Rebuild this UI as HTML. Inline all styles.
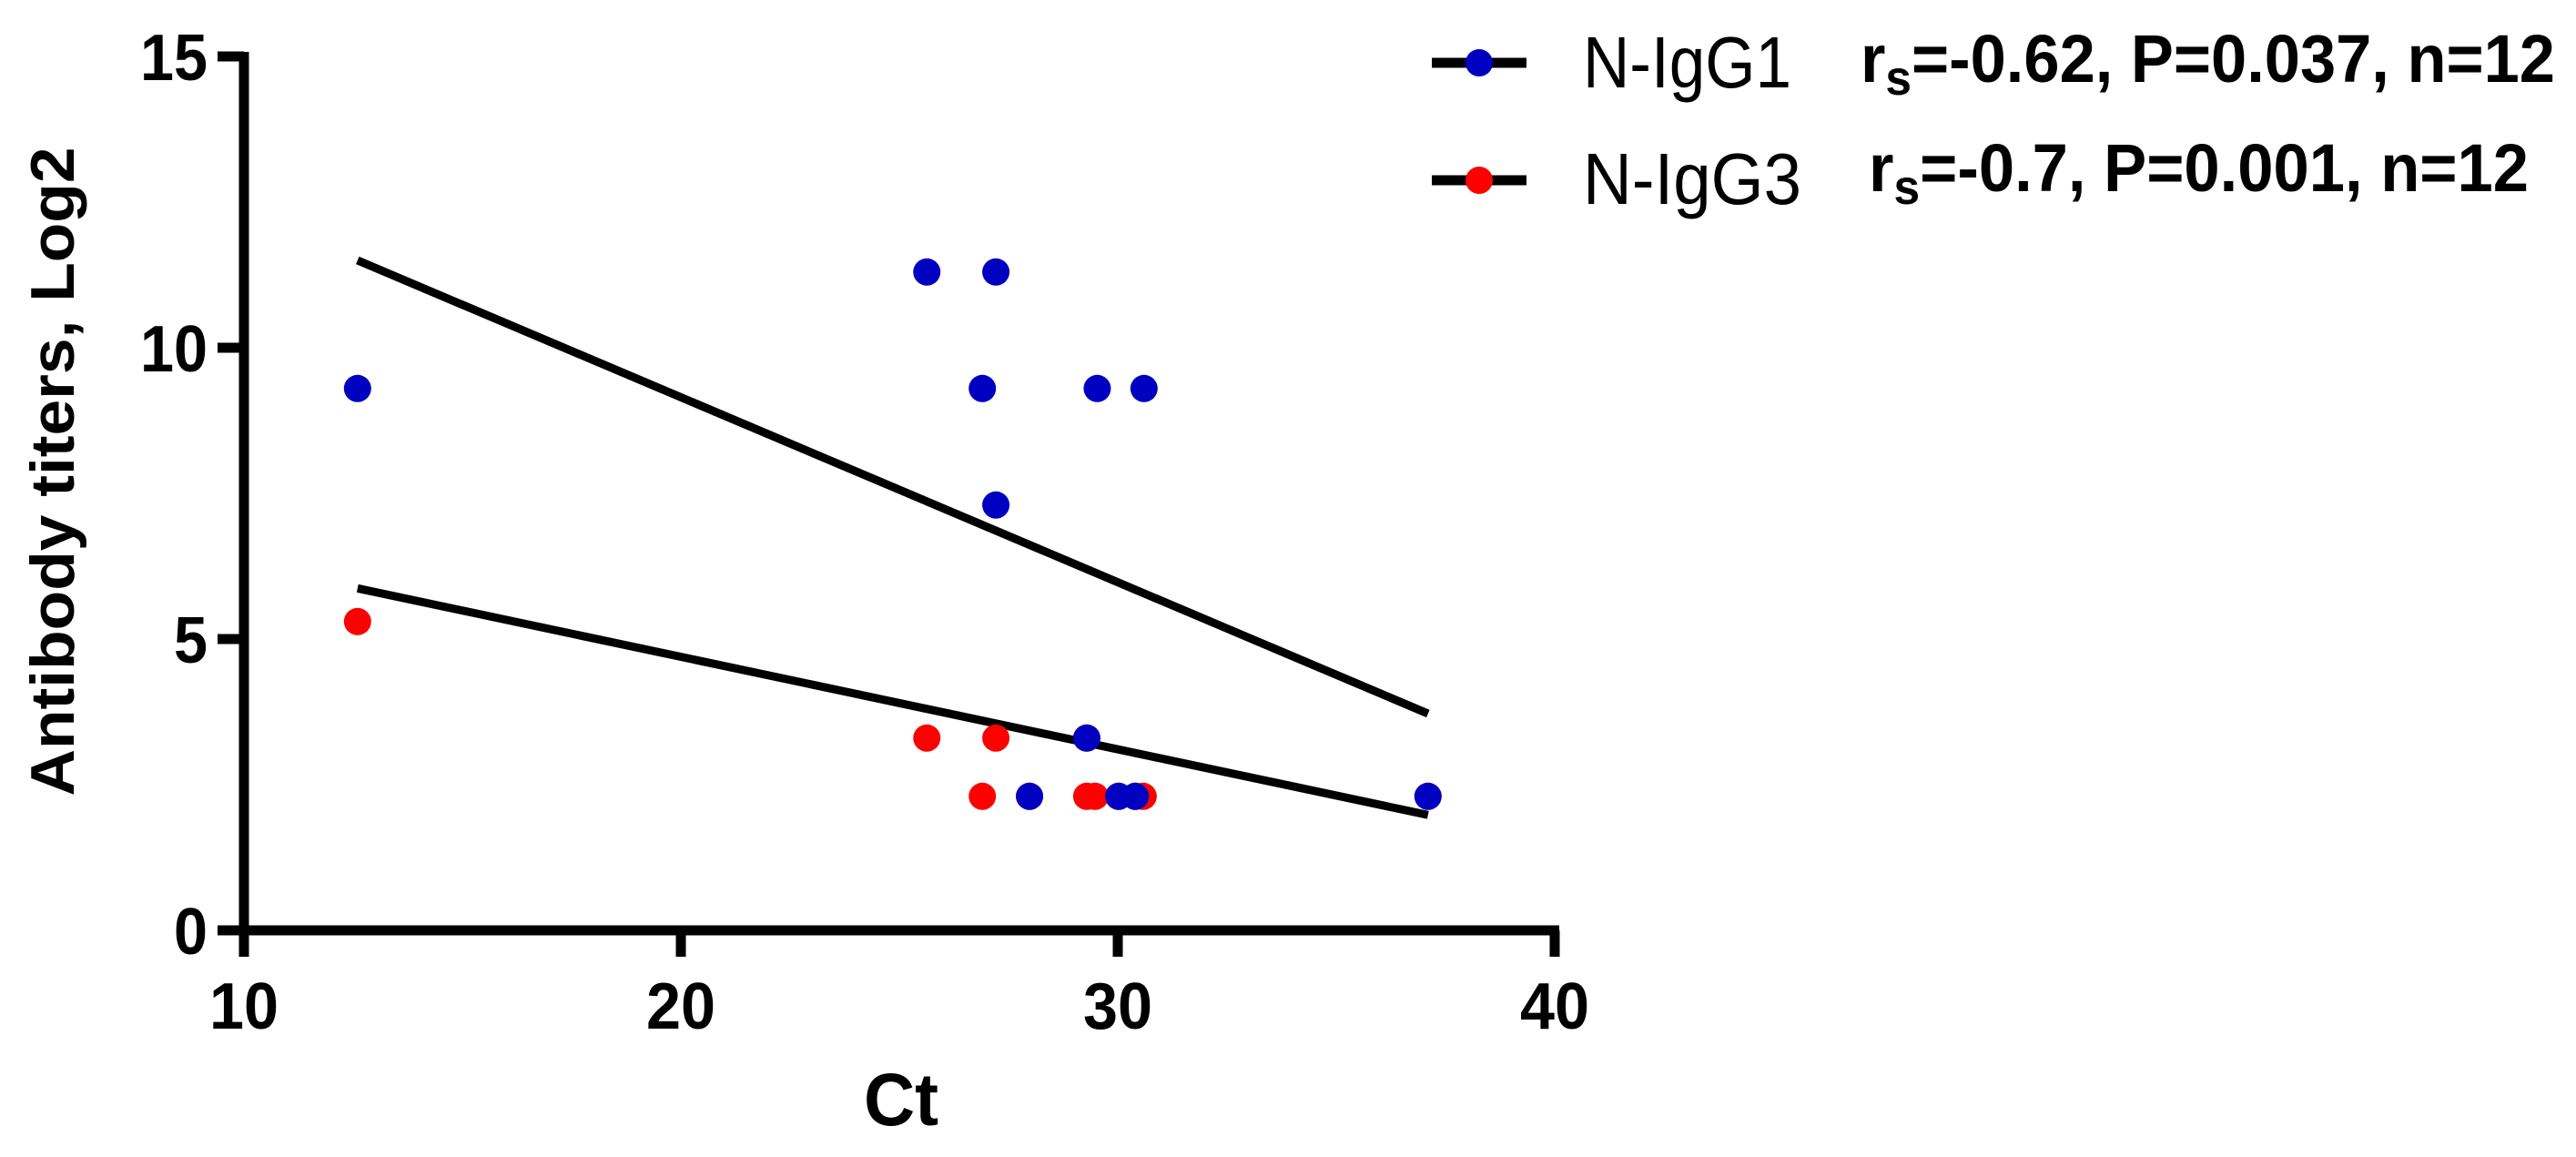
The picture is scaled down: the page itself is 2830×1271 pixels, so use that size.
<!DOCTYPE html>
<html><head><meta charset="utf-8"><style>
html,body{margin:0;padding:0;background:#fff;}
svg{display:block;}
text{font-family:"Liberation Sans",Arial,sans-serif;}
</style></head><body>
<svg id="chart" width="2830" height="1271" viewBox="0 0 2830 1271" xmlns="http://www.w3.org/2000/svg">
<g id="fits"></g>
<g id="points"></g>
<g id="axes"></g>
<text transform="translate(81,518) rotate(-90)" text-anchor="middle" font-size="68" font-weight="bold" textLength="713" lengthAdjust="spacingAndGlyphs">Antibody titers, Log2</text>
<text x="990" y="1236" text-anchor="middle" font-size="82" font-weight="bold" textLength="82" lengthAdjust="spacingAndGlyphs">Ct</text>
<g>
  <g>
    <line x1="1573" y1="69" x2="1677" y2="69" stroke="#000" stroke-width="11"/>
    <circle cx="1625" cy="69" r="15" fill="#0000C0"/>
    <text x="1739" y="96" font-size="80" textLength="229" lengthAdjust="spacingAndGlyphs">N-IgG1</text>
    <text x="2044" y="90" font-size="74" font-weight="bold" textLength="763" lengthAdjust="spacingAndGlyphs">r<tspan dy="14" font-size="54">s</tspan><tspan dy="-14">=-0.62, P=0.037, n=12</tspan></text>
  </g>
  <g>
    <line x1="1573" y1="198" x2="1677" y2="198" stroke="#000" stroke-width="11"/>
    <circle cx="1625" cy="198" r="15" fill="#FF0000"/>
    <text x="1739" y="224" font-size="80" textLength="240" lengthAdjust="spacingAndGlyphs">N-IgG3</text>
    <text x="2053" y="210" font-size="74" font-weight="bold" textLength="725" lengthAdjust="spacingAndGlyphs">r<tspan dy="14" font-size="54">s</tspan><tspan dy="-14">=-0.7, P=0.001, n=12</tspan></text>
  </g>
</g>
</svg>
<script>
const xTicks = [10, 20, 30, 40];
const yTicks = [0, 5, 10, 15];
const igg1X = [12.6, 25.63, 27.21, 26.9, 29.53, 30.6, 27.21, 29.29, 27.98, 30.02, 30.4, 37.1];
const igg1Y = [9.3, 11.3, 11.3, 9.3, 9.3, 9.3, 7.3, 3.3, 2.3, 2.3, 2.3, 2.3];
const igg3X = [12.6, 25.63, 27.21, 26.9, 29.29, 29.48, 30.58, 27.98, 30.02, 30.4, 37.1, 29.29];
const igg3Y = [5.3, 3.3, 3.3, 2.3, 2.3, 2.3, 2.3, 2.3, 2.3, 2.3, 2.3, 3.3];
const fitX = [12.6, 37.1];
const fit1Y = [11.5, 3.72];
const fit3Y = [5.87, 1.98];

const NS = 'http://www.w3.org/2000/svg';
const X0 = 268, PXX = 48, Y0 = 1022, PXY = 64;
function sx(v){ return X0 + (v - 10) * PXX; }
function sy(v){ return Y0 - v * PXY; }
function mk(tag, attrs, parent){
  const e = document.createElementNS(NS, tag);
  for (const k in attrs) e.setAttribute(k, attrs[k]);
  parent.appendChild(e);
  return e;
}
const axes = document.getElementById('axes');
const fits = document.getElementById('fits');
const pts = document.getElementById('points');

let yl = mk('line', {x1: X0, y1: sy(15) - 5, x2: X0, y2: Y0 + 29, stroke: '#000', 'stroke-width': 11}, axes);


let xl = mk('line', {x1: X0 - 29, y1: Y0, x2: sx(40) + 5, y2: Y0, stroke: '#000', 'stroke-width': 11}, axes);



xTicks.forEach(t => {
  const tk = mk('line', {x1: sx(t), y1: Y0, x2: sx(t), y2: Y0 + 29, stroke: '#000', 'stroke-width': 11}, axes);
  
  
  const lb = mk('text', {x: sx(t), y: 1130, 'text-anchor': 'middle', 'font-size': 72, 'font-weight': 'bold', textLength: 76, lengthAdjust: 'spacingAndGlyphs'}, axes);
  lb.textContent = String(t);
  
  
});
yTicks.forEach(t => {
  const tk = mk('line', {x1: X0 - 29, y1: sy(t), x2: X0, y2: sy(t), stroke: '#000', 'stroke-width': 11}, axes);
  
  
  const s = String(t);
  const lb = mk('text', {x: 228, y: sy(t) + 26, 'text-anchor': 'end', 'font-size': 72, 'font-weight': 'bold', textLength: s.length * 37, lengthAdjust: 'spacingAndGlyphs'}, axes);
  lb.textContent = s;
  
  
});

let f1 = mk('line', {x1: sx(fitX[0]), y1: sy(fit1Y[0]), x2: sx(fitX[1]), y2: sy(fit1Y[1]), stroke: '#000', 'stroke-width': 9}, fits);


let f3 = mk('line', {x1: sx(fitX[0]), y1: sy(fit3Y[0]), x2: sx(fitX[1]), y2: sy(fit3Y[1]), stroke: '#000', 'stroke-width': 9}, fits);



igg3X.forEach((x, i) => {
  const c = mk('circle', {cx: sx(x), cy: sy(igg3Y[i]), r: 15, fill: '#FF0000'}, pts);
  
  
});
igg1X.forEach((x, i) => {
  const c = mk('circle', {cx: sx(x), cy: sy(igg1Y[i]), r: 15, fill: '#0000C0'}, pts);
  
  
});
</script>
</body></html>
